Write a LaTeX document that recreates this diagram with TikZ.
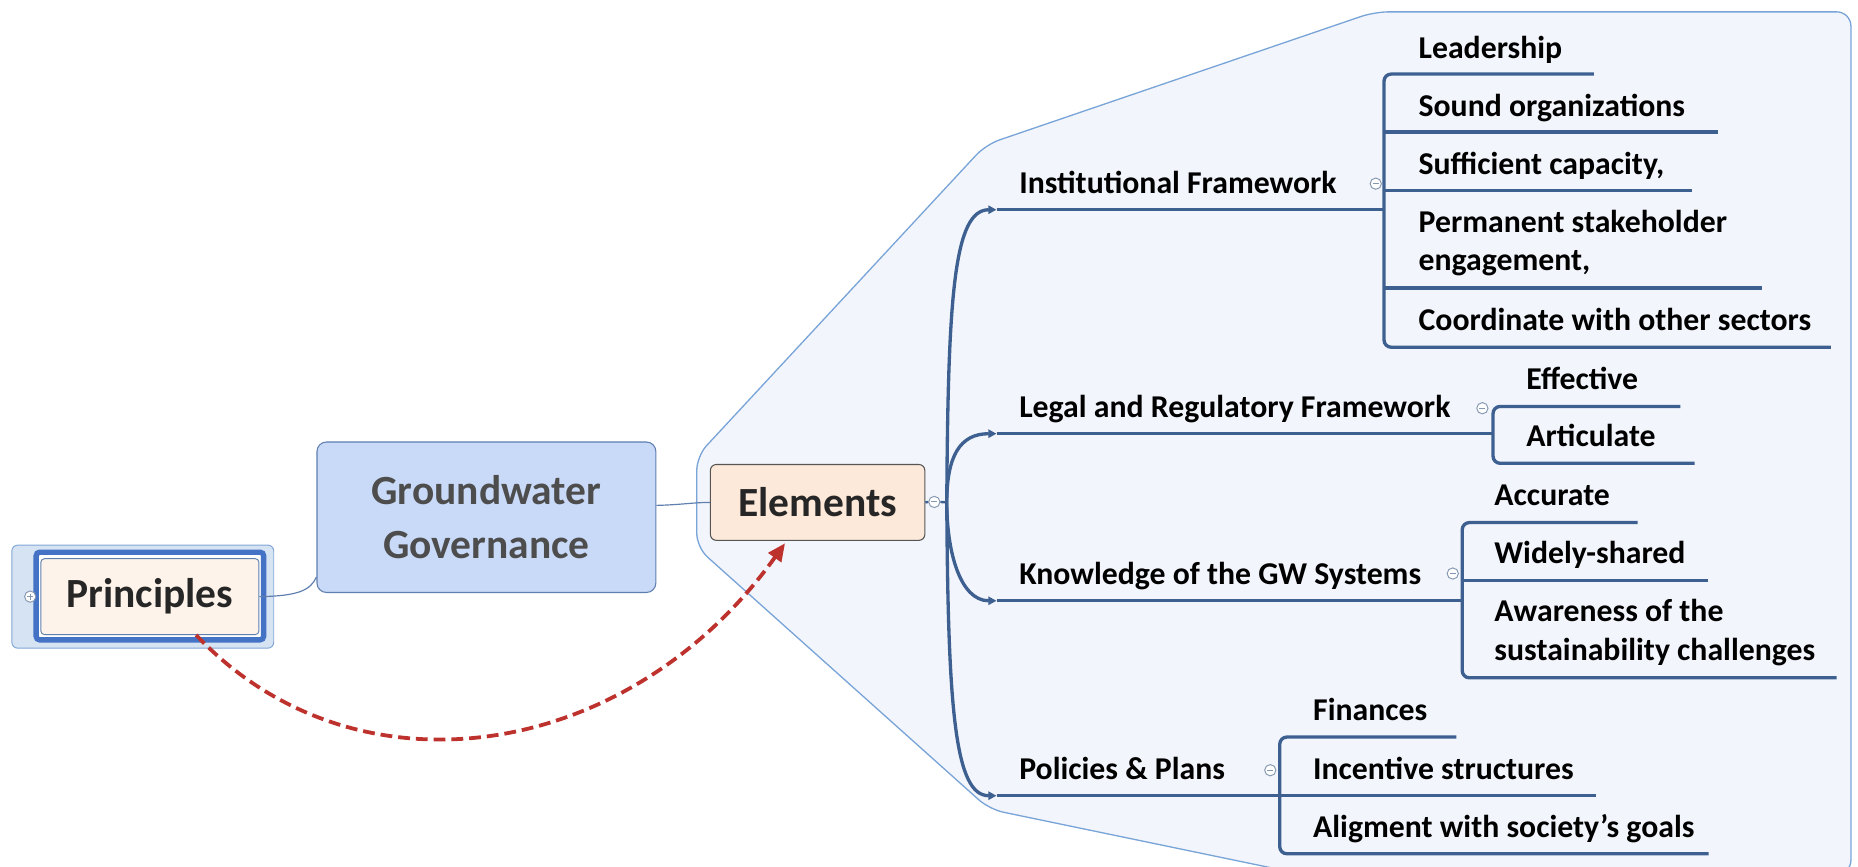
\documentclass[tikz,border=0pt]{standalone}
\usepackage{fontspec}
\setmainfont{Carlito}
\usetikzlibrary{arrows.meta}
\definecolor{branch}{RGB}{62,96,145}
\definecolor{bndfill}{RGB}{242,245,251}
\definecolor{bnddraw}{RGB}{120,164,216}
\definecolor{ggfill}{RGB}{201,218,248}
\definecolor{ggdraw}{RGB}{95,127,175}
\definecolor{elfill}{RGB}{253,233,217}
\definecolor{eldraw}{RGB}{85,85,85}
\definecolor{prfill}{RGB}{253,243,234}
\definecolor{prblue}{RGB}{68,114,196}
\definecolor{proutfill}{RGB}{214,227,243}
\definecolor{proutdraw}{RGB}{127,166,214}
\definecolor{redarrow}{RGB}{190,50,45}
\definecolor{togglecol}{RGB}{132,151,176}
\definecolor{ggtext}{RGB}{77,77,77}
\begin{document}
\begin{tikzpicture}[x=1pt,y=-1pt,
  itemtext/.style={anchor=base west, inner sep=0pt, font=\fontsize{26.8}{32.5}\selectfont\bfseries, text=black},
  bigtext/.style={font=\fontsize{35}{45.4}\selectfont\bfseries},
  branchline/.style={draw=branch, line width=2.8pt},
  brackline/.style={draw=branch, line width=2.8pt, rounded corners=6pt},
  tiparrow/.style={-{Triangle[length=7pt,width=7pt]}},
  minustoggle/.style={circle, draw=togglecol, fill=white, line width=0.8pt, minimum size=9.5pt, inner sep=0pt,
    path picture={\draw[togglecol, line width=0.8pt] ([xshift=-2.6pt]path picture bounding box.center) -- ([xshift=2.6pt]path picture bounding box.center);}},
  plustoggle/.style={circle, draw=togglecol, fill=white, line width=0.8pt, minimum size=9.5pt, inner sep=0pt,
    path picture={\draw[togglecol, line width=0.8pt] ([xshift=-2.6pt]path picture bounding box.center) -- ([xshift=2.6pt]path picture bounding box.center) ([yshift=-2.6pt]path picture bounding box.center) -- ([yshift=2.6pt]path picture bounding box.center);}},
]
\useasboundingbox (0,0) rectangle (1568,731);
\clip (0,0) rectangle (1568,731);

% boundary
\filldraw[fill=bndfill, draw=bnddraw, line width=1.1pt, rounded corners=12pt]
  (835,683) -- (1100,738) -- (1562,738) -- (1562,10) -- (1160,10) -- (832,122) -- (588,385) -- (588,462) -- cycle;

% Principles
\node[draw=proutdraw, fill=proutfill, line width=0.8pt, rounded corners=5pt, minimum width=221pt, minimum height=87pt] (prout) at (120.5,503.5) {};
\node[draw=prblue, fill=white, line width=4.5pt, rounded corners=3pt, minimum width=192pt, minimum height=74pt] (prframe) at (126.5,503) {};
\node[draw=ggdraw, fill=prfill, line width=0.8pt, rounded corners=3pt, minimum width=184pt, minimum height=64pt, bigtext, text=black!85] (prin) at (126.5,503.5) {Principles};
\node[plustoggle] (prt) at (25.5,503.5) {};

% Groundwater Governance
\node[draw=ggdraw, fill=ggfill, line width=0.9pt, rounded corners=8pt, minimum width=286pt, minimum height=127pt, bigtext, text=ggtext, align=center] (gg) at (410.5,436.5) {Groundwater\\Governance};

% Elements
\node[draw=eldraw, fill=elfill, line width=0.9pt, rounded corners=5pt, minimum width=181pt, minimum height=64pt, bigtext, text=black!85] (el) at (690,424) {Elements};
\node[minustoggle] (elt) at (788.5,423.6) {};
\coordinate (hub) at (799,424);

% connectors between central nodes
\draw[ggdraw, line width=1pt] (prin.east) .. controls (252,503) and (262,498) .. ([yshift=13.5pt]gg.south west);
\draw[ggdraw, line width=1pt] ([yshift=10pt]gg.east) .. controls (575,426) and (585,424) .. (el.west);
\draw[branch, line width=2pt] (el.east) -- (elt.west);
\draw[branch, line width=2pt] (elt.east) -- (hub);

% red dashed arrow
\draw[redarrow, line width=3.2pt, dash pattern=on 10pt off 5pt, -{Triangle[length=15pt,width=13pt]}]
  ([xshift=39pt]prin.south) .. controls (300,678) and (530,643) .. ([xshift=-27.5pt,yshift=-2pt]el.south);

% ---------- main branches ----------
\coordinate (ia) at (841,177);   \coordinate (ib) at (1168,177);
\coordinate (la) at (841,366);   \coordinate (lb) at (1260,366);
\coordinate (ka) at (841,507);   \coordinate (kb) at (1234,507);
\coordinate (pa) at (841,671.5); \coordinate (pb) at (1080,671.5);

\draw[branchline, tiparrow] (hub) .. controls (800,250) and (805,177) .. (ia);
\draw[branchline, tiparrow] (hub) .. controls (799,385) and (810,366) .. (la);
\draw[branchline, tiparrow] (hub) .. controls (799,465) and (810,507) .. (ka);
\draw[branchline, tiparrow] (hub) .. controls (800,600) and (806,671.5) .. (pa);
\draw[branchline] (ia) -- (ib);
\draw[branchline] (la) -- (lb);
\draw[branchline] (ka) -- (kb);
\draw[branchline] (pa) -- (pb);

\node[itemtext] (inst) at (860,163) {Institutional Framework};
\node[itemtext] (legal) at (860,352) {Legal and Regulatory Framework};
\node[itemtext] (know) at (860,493) {Knowledge of the GW Systems};
\node[itemtext] (pol) at (860,657.5) {Policies \& Plans};

\node[minustoggle] (instt) at (1161,155) {};
\node[minustoggle] (legalt) at (1251,344.5) {};
\node[minustoggle] (knowt) at (1226,484) {};
\node[minustoggle] (polt) at (1072,650) {};

% ---------- Institutional children ----------
\coordinate (i1) at (1168,62.5);  \coordinate (i1e) at (1345,62.5);
\coordinate (i2) at (1168,111.5); \coordinate (i2e) at (1450,111.5);
\coordinate (i3) at (1168,161);   \coordinate (i3e) at (1428,161);
\coordinate (i4) at (1168,243);   \coordinate (i4e) at (1487,243);
\coordinate (i5) at (1168,293);   \coordinate (i5e) at (1545,293);
\draw[brackline] (i1e) -- (i1) -- (i5) -- (i5e);
\draw[branchline] (i2) -- (i2e);
\draw[branchline] (i3) -- (i3e);
\draw[branchline] (i4) -- (i4e);
\node[itemtext] (lead) at (1197,49) {Leadership};
\node[itemtext] (sound) at (1197,98) {Sound organizations};
\node[itemtext] (suff) at (1197,147) {Sufficient capacity,};
\node[itemtext] (perm) at (1197,196) {\begin{tabular}[t]{@{}l@{}}Permanent stakeholder\\engagement,\end{tabular}};
\node[itemtext] (coord) at (1197,279) {Coordinate with other sectors};

% ---------- Legal children ----------
\coordinate (l1) at (1260,343);  \coordinate (l1e) at (1418,343);
\coordinate (l2) at (1260,391);  \coordinate (l2e) at (1430,391);
\draw[brackline] (l1e) -- (l1) -- (l2) -- (l2e);
\node[itemtext] (eff) at (1288,328.5) {Effective};
\node[itemtext] (art) at (1288,377) {Articulate};

% ---------- Knowledge children ----------
\coordinate (k1) at (1234,441);  \coordinate (k1e) at (1382,441);
\coordinate (k2) at (1234,490);  \coordinate (k2e) at (1441,490);
\coordinate (k3) at (1234,572);  \coordinate (k3e) at (1550,572);
\draw[brackline] (k1e) -- (k1) -- (k3) -- (k3e);
\draw[branchline] (k2) -- (k2e);
\node[itemtext] (acc) at (1261,426.5) {Accurate};
\node[itemtext] (wide) at (1261,475.5) {Widely-shared};
\node[itemtext] (aware) at (1261,524.5) {\begin{tabular}[t]{@{}l@{}}Awareness of the\\sustainability challenges\end{tabular}};

% ---------- Policies children ----------
\coordinate (p1) at (1080,622);   \coordinate (p1e) at (1229,622);
\coordinate (p2) at (1080,671.5); \coordinate (p2e) at (1347,671.5);
\coordinate (p3) at (1080,720.5); \coordinate (p3e) at (1442,720.5);
\draw[brackline] (p1e) -- (p1) -- (p3) -- (p3e);
\draw[branchline] (p2) -- (p2e);
\node[itemtext] (fin) at (1108,608) {Finances};
\node[itemtext] (inc) at (1108,657.5) {Incentive structures};
\node[itemtext] (alig) at (1108,706.5) {Aligment with society’s goals};
\end{tikzpicture}
\end{document}
